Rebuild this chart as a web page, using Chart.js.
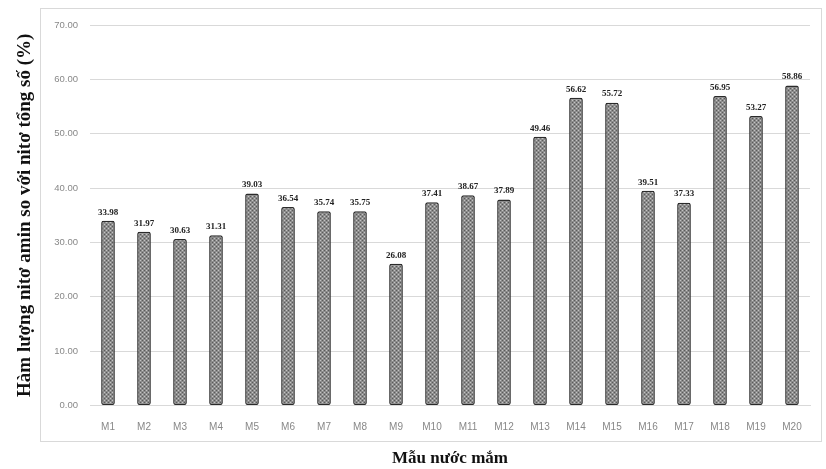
<!DOCTYPE html>
<html>
<head>
<meta charset="utf-8">
<script src="https://cdn.jsdelivr.net/npm/chart.js@4/dist/chart.umd.min.js"></script>
<style>
  body { margin: 0; background: #fff; }
  #wrap { position: relative; width: 826px; height: 469px; }
  #frame { position: absolute; left: 40px; top: 8px; width: 780px; height: 432px; border: 1px solid #d9d9d9; }
  canvas { position: absolute; left: 0; top: 0; }
</style>
</head>
<body>
<div id="wrap">
  <div id="frame"></div>
  <canvas id="chart" width="826" height="469"></canvas>
</div>
<script>
const samples = ["M1","M2","M3","M4","M5","M6","M7","M8","M9","M10","M11","M12","M13","M14","M15","M16","M17","M18","M19","M20"];
const amineRatio = [33.98,31.97,30.63,31.31,39.03,36.54,35.74,35.75,26.08,37.41,38.67,37.89,49.46,56.62,55.72,39.51,37.33,56.95,53.27,58.86];
const yMax = 70;
const yStep = 10;

// dotted grey fill like the original excel bars
function makePattern() {
  const c = document.createElement("canvas");
  c.width = 4; c.height = 4;
  const g = c.getContext("2d");
  g.fillStyle = "#8c8c8c";
  g.fillRect(0, 0, 4, 4);
  g.fillStyle = "#c4c4c4";
  g.fillRect(0, 0, 1, 1);
  g.fillRect(2, 2, 1, 1);
  g.fillStyle = "#5a5a5a";
  g.fillRect(2, 0, 1, 1);
  g.fillRect(0, 2, 1, 1);
  return g.createPattern(c, "repeat");
}

const valueLabels = {
  id: "valueLabels",
  afterDatasetsDraw(chart) {
    const ctx = chart.ctx;
    const meta = chart.getDatasetMeta(0);
    ctx.save();
    ctx.font = "bold 9px 'Liberation Serif'";
    ctx.fillStyle = "#222";
    ctx.textAlign = "center";
    ctx.textBaseline = "bottom";
    meta.data.forEach((bar, i) => {
      ctx.fillText(amineRatio[i].toFixed(2), bar.x, bar.y - 4);
    });
    ctx.restore();
  }
};

new Chart(document.getElementById("chart"), {
  type: "bar",
  data: {
    labels: samples,
    datasets: [{
      data: amineRatio,
      backgroundColor: makePattern(),
      borderColor: "#2b2b2b",
      borderWidth: 1.5,
      borderRadius: 2,
      borderSkipped: false,
      barPercentage: 0.38,
      categoryPercentage: 1
    }]
  },
  options: {
    responsive: false,
    animation: false,
    layout: { padding: { left: 14, right: 16, top: 25, bottom: 0 } },
    plugins: { legend: { display: false }, tooltip: { enabled: false } },
    scales: {
      x: {
        grid: { display: false },
        border: { color: "#d9d9d9" },
        ticks: { color: "#888", font: { family: "Liberation Sans", size: 10 }, padding: 8 },
        title: {
          display: true,
          text: "Mẫu nước mắm",
          color: "#111",
          font: { family: "Liberation Serif", size: 17, weight: "bold" },
          padding: { top: 7, bottom: 0 }
        }
      },
      y: {
        min: 0,
        max: yMax,
        afterFit: s => { s.width = 76; },
        ticks: {
          stepSize: yStep,
          color: "#888",
          font: { family: "Liberation Sans", size: 9.5 },
          padding: 12,
          callback: v => v.toFixed(2)
        },
        grid: { color: "#d9d9d9", drawTicks: false },
        border: { display: false },
        title: {
          display: true,
          text: "Hàm lượng nitơ amin so với nitơ tổng số (%)",
          color: "#111",
          font: { family: "Liberation Serif", size: 19, weight: "bold" },
          padding: { top: 0, bottom: 14 }
        }
      }
    }
  },
  plugins: [valueLabels]
});
</script>
</body>
</html>
